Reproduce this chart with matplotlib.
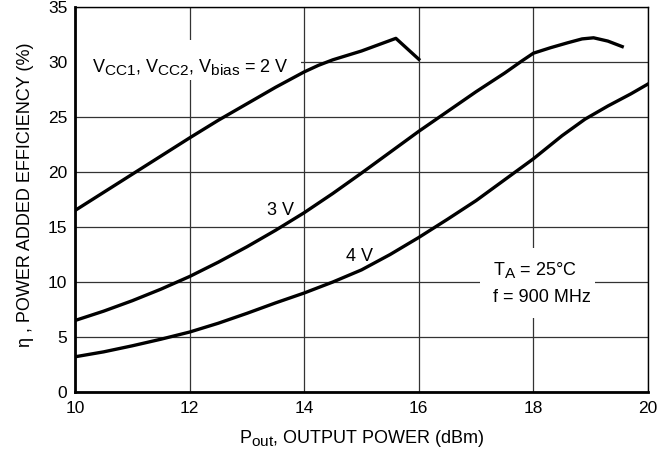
import matplotlib
matplotlib.use("Agg")
import matplotlib.pyplot as plt
import matplotlib._mathtext as mathtext_internal
from matplotlib.patches import Rectangle

plt.rcParams['font.family'] = ['Liberation Sans', 'DejaVu Sans']
plt.rcParams['mathtext.fontset'] = 'custom'
plt.rcParams['mathtext.rm'] = 'Liberation Sans'
plt.rcParams['mathtext.it'] = 'Liberation Sans'
# datasheet style: subscripts nearly full size
mathtext_internal.SHRINK_FACTOR = 0.85

# efficiency curves (Pout in dBm, eta in %)
pout_2v = [10, 10.5, 11, 11.5, 12, 12.5, 13, 13.5, 14, 14.25, 14.5, 15, 15.6, 16]
eff_2v = [16.5, 18.15, 19.8, 21.45, 23.1, 24.7, 26.2, 27.7, 29.1, 29.7, 30.2, 31.0, 32.15, 30.25]

pout_3v = [10, 10.5, 11, 11.5, 12, 12.5, 13, 13.5, 14, 14.5, 15, 15.5, 16, 16.5, 17, 17.5,
           17.8, 18, 18.3, 18.6, 18.85, 19.05, 19.3, 19.55]
eff_3v = [6.5, 7.35, 8.3, 9.35, 10.5, 11.8, 13.2, 14.7, 16.3, 18.05, 19.9, 21.8, 23.7, 25.5,
          27.3, 29.0, 30.1, 30.8, 31.3, 31.75, 32.1, 32.2, 31.9, 31.4]

pout_4v = [10, 10.5, 11, 11.5, 12, 12.5, 13, 13.5, 14, 14.5, 15, 15.5, 16, 16.5, 17, 17.5,
           18, 18.5, 18.9, 19.3, 19.7, 20]
eff_4v = [3.2, 3.65, 4.2, 4.8, 5.45, 6.25, 7.15, 8.1, 9.0, 10.0, 11.1, 12.5, 14.05, 15.7,
          17.4, 19.3, 21.2, 23.3, 24.8, 26.0, 27.1, 28.0]

x_ticks = [10, 12, 14, 16, 18, 20]
y_ticks = [0, 5, 10, 15, 20, 25, 30, 35]

fig = plt.figure(figsize=(6.64, 4.54), dpi=100)
ax = fig.add_axes([75 / 664, 1 - 392 / 454, 573 / 664, 385 / 454])

for x, y in [(pout_2v, eff_2v), (pout_3v, eff_3v), (pout_4v, eff_4v)]:
    ax.plot(x, y, color='black', lw=2.4, solid_joinstyle='round', zorder=3)

ax.set_xlim(10, 20)
ax.set_ylim(0, 35)
ax.set_xticks(x_ticks)
ax.set_yticks(y_ticks)
ax.grid(True, color='#333333', lw=0.9, zorder=1)
ax.set_axisbelow(True)
ax.tick_params(length=0, labelsize=12.5)
ax.tick_params(axis='x', pad=6.5)
ax.tick_params(axis='y', pad=5.5)
for s in ['left', 'bottom']:
    ax.spines[s].set_linewidth(2.0)
for s in ['top', 'right']:
    ax.spines[s].set_linewidth(1.0)

fs = 13
ax.set_xlabel(r'P$_{\mathrm{out}}$, OUTPUT POWER (dBm)', fontsize=fs)
ax.set_ylabel('\u03b7 , POWER ADDED EFFICIENCY (%)', fontsize=fs)
ax.xaxis.set_label_coords(0.5, -0.094)
ax.yaxis.set_label_coords(-0.072, 0.512)

# white patches where the labels cut the grid
ax.add_patch(Rectangle((10.0, 28.4), 3.95, 3.6, facecolor='white', edgecolor='none', zorder=2))
ax.add_patch(Rectangle((17.07, 6.75), 2.0, 6.35, facecolor='white', edgecolor='none', zorder=2))

ax.text(10.3, 29.1, r'V$_{\mathrm{CC1}}$, V$_{\mathrm{CC2}}$, V$_{\mathrm{bias}}$ = 2 V',
        fontsize=fs, ha='left', va='baseline', zorder=4)
ax.text(13.58, 16.1, '3 V', fontsize=fs, ha='center', va='baseline', zorder=4)
ax.text(14.97, 11.9, '4 V', fontsize=fs, ha='center', va='baseline', zorder=4)
ax.text(17.29, 10.64, r'T$_{\mathrm{A}}$ = 25\u00b0C'.replace('\\u00b0', '\u00b0'), fontsize=fs,
        ha='left', va='baseline', zorder=4)
ax.text(17.29, 8.18, 'f = 900 MHz', fontsize=fs, ha='left', va='baseline', zorder=4)

fig.savefig('out.png', dpi=100)
